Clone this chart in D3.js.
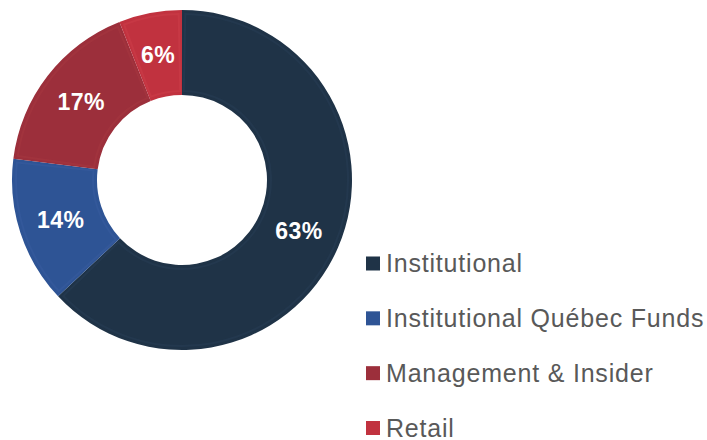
<!DOCTYPE html>
<html><head><meta charset="utf-8">
<script src="https://cdn.jsdelivr.net/npm/d3@7"></script>
<style>body{margin:0;background:#fff}svg{display:block}</style>
</head><body>
<svg id="c" width="707" height="440"></svg>
<script>
const categories = ["Institutional", "Institutional Québec Funds", "Management & Insider", "Retail"];
const values = [63, 14, 17, 6];
const colors = ["#1f3347", "#2e5495", "#9c2f3b", "#c1323f"];
const edgeColors = ["#243a50", "#34599b", "#a3343f", "#c83a46"];

const svg = d3.select("#c");
const cx = 182, cy = 180, R = 170, r = 85;
const g = svg.append("g").attr("transform", `translate(${cx},${cy})`);
const pie = d3.pie().sort(null).value(d => d)(values);
const arc = d3.arc().innerRadius(r).outerRadius(R);
const inner = d3.arc().innerRadius(r + 4).outerRadius(R - 4);
const lab = d3.arc().innerRadius((r + R) / 2).outerRadius((r + R) / 2);

g.selectAll("path.s").data(pie).join("path").attr("class", "s")
  .attr("d", arc).attr("fill", (d, i) => colors[i]);
g.selectAll("path.e").data(pie).join("path").attr("class", "e")
  .attr("d", d => inner({...d, startAngle: d.startAngle + 0.02, endAngle: d.endAngle - 0.02}))
  .attr("fill", "none").attr("stroke", (d, i) => edgeColors[i]).attr("stroke-width", 2).attr("opacity", 0.8);

g.selectAll("text").data(pie).join("text")
  .attr("transform", d => { const [x, y] = lab.centroid(d); return `translate(${x},${y})`; })
  .attr("text-anchor", "middle").attr("dy", "0.36em")
  .attr("font-family", "Liberation Sans, Arial, sans-serif").attr("font-weight", "bold")
  .attr("font-size", 23).attr("letter-spacing", 0.5).attr("fill", "#fff")
  .text(d => d.value + "%");

const legend = svg.append("g");
const y = d3.scalePoint().domain(categories).range([263.5, 428]);
categories.forEach((c, i) => {
  legend.append("rect").attr("x", 366).attr("y", y(c) - 7).attr("width", 14).attr("height", 14).attr("fill", colors[i]);
  legend.append("text").attr("x", 386).attr("y", y(c) + 8.5)
    .attr("font-family", "Liberation Sans, Arial, sans-serif").attr("font-size", 25)
    .attr("letter-spacing", 0.8)
    .attr("fill", "#595959").text(c);
});
</script>
</body></html>
